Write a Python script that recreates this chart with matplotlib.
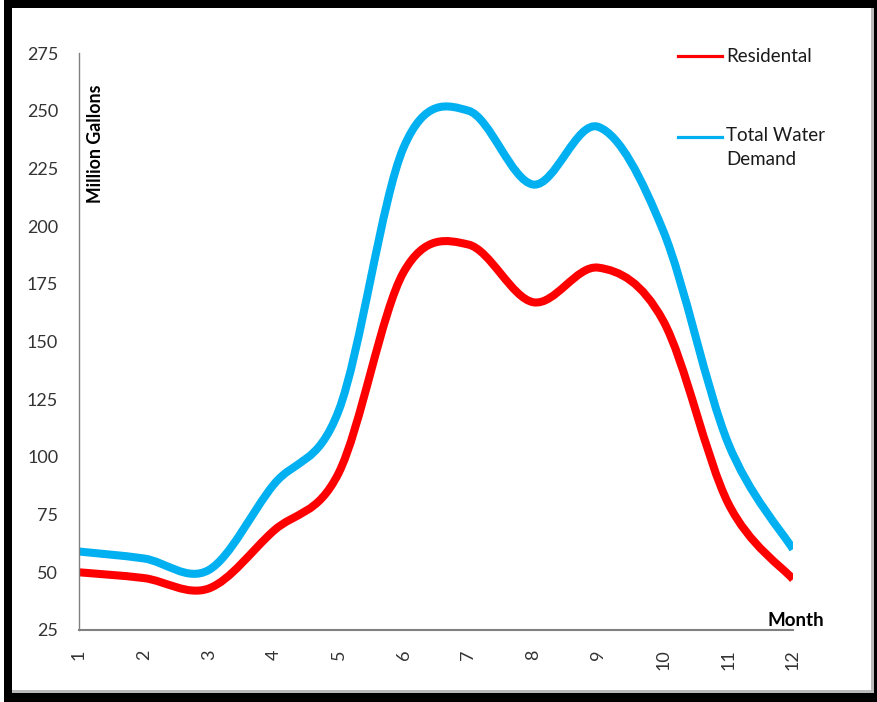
import matplotlib
matplotlib.use("Agg")
import matplotlib.pyplot as plt
from matplotlib.path import Path
from matplotlib.patches import PathPatch, Rectangle
import numpy as np

months = [1, 2, 3, 4, 5, 6, 7, 8, 9, 10, 11, 12]
residential = [50, 47.5, 43, 68, 93, 180, 192, 167, 182, 159, 80, 47]
total_demand = [59, 56, 51, 88, 120, 234, 250, 218, 243, 198, 106, 60]
series_names = ["Residental", "Total Water\nDemand"]
series_colors = ["#FF0000", "#00B0F0"]
y_ticks = [25, 50, 75, 100, 125, 150, 175, 200, 225, 250, 275]

plt.rcParams['font.family'] = ['Lato', 'DejaVu Sans']

fig = plt.figure(figsize=(8.77, 7.02), dpi=100)
# frame
fig.patches.append(Rectangle((4/877, 0), 873/877, 1, transform=fig.transFigure,
                             facecolor='black', edgecolor='none', zorder=-10))
fig.patches.append(Rectangle((12/877, 9/702), (874-12)/877, (694-9)/702,
                             transform=fig.transFigure, facecolor='#BBBBBB',
                             edgecolor='none', zorder=-9))
fig.patches.append(Rectangle((12/877, 12/702), (871-12)/877, (694-12)/702,
                             transform=fig.transFigure, facecolor='white',
                             edgecolor='none', zorder=-8))

ax = fig.add_axes([79/877, 1-630/702, (793-79)/877, (630-53)/702])
ax.set_facecolor('none')


def smooth_path(xs, ys):
    pts = np.column_stack([xs, ys]).astype(float)
    n = len(pts)
    verts = [pts[0]]
    codes = [Path.MOVETO]
    for i in range(n - 1):
        p0 = pts[i - 1] if i > 0 else pts[i]
        p1 = pts[i]
        p2 = pts[i + 1]
        p3 = pts[i + 2] if i + 2 < n else pts[i + 1]
        c1 = p1 + (p2 - p0) / 6.0
        c2 = p2 - (p3 - p1) / 6.0
        verts += [c1, c2, p2]
        codes += [Path.CURVE4] * 3
    return Path(verts, codes)


for vals, col in zip([residential, total_demand], series_colors):
    ax.add_patch(PathPatch(smooth_path(months, vals), facecolor='none',
                           edgecolor=col, lw=5.8, capstyle='butt',
                           joinstyle='round'))

ax.set_xlim(1, 12)
ax.set_ylim(25, 275)
ax.set_yticks(y_ticks)
ax.set_xticks(months)
ax.set_xticklabels([str(m) for m in months], rotation=90)
ax.tick_params(axis='y', length=0, pad=15, labelsize=13, labelcolor='#333333')
ax.tick_params(axis='x', length=0, pad=14, labelsize=13, labelcolor='#333333')
for s in ['top', 'right']:
    ax.spines[s].set_visible(False)
ax.spines['left'].set_color('#808080')
ax.spines['bottom'].set_color('#808080')
ax.spines['left'].set_linewidth(1.0)
ax.spines['bottom'].set_linewidth(1.5)

ax.text(0.011, 0.842, "Million Gallons", transform=ax.transAxes, rotation=90,
        ha='left', va='center', fontsize=12.8, fontweight='bold', color='black')
ax.text(1.004, 0.017, "Month", transform=ax.transAxes, ha='center',
        va='center', fontsize=13.5, fontweight='bold', color='black')

# legend
leg_y = [56, 137]
for name, col, yy in zip(series_names, series_colors, leg_y):
    fy = 1 - yy / 702
    fig.add_artist(plt.Line2D([678/877, 722/877], [fy, fy], color=col, lw=2.3,
                              transform=fig.transFigure))
    if '\n' in name:
        fig.text(726/877, fy + 10/702, name, ha='left', va='top', fontsize=13.5,
                 color='#1a1a1a', linespacing=1.5)
    else:
        fig.text(726/877, fy, name, ha='left', va='center', fontsize=13.5,
                 color='#1a1a1a')

fig.savefig("out.png", dpi=100)
